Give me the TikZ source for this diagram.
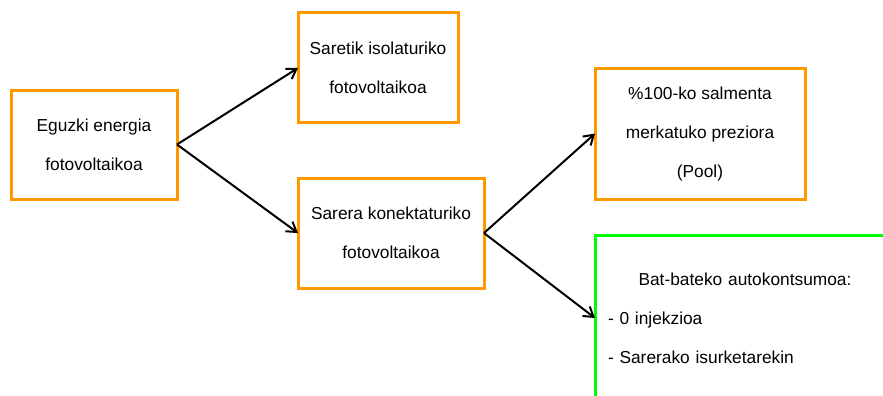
\documentclass[tikz,border=0pt]{standalone}
\usepackage{fontspec}
\setmainfont{Liberation Sans}
\usepackage{xcolor}
\usetikzlibrary{arrows.meta,positioning}

\definecolor{boxorange}{HTML}{FF9900}
\definecolor{boxgreen}{HTML}{00FF00}

\begin{document}
\begin{tikzpicture}[
  x=0.75pt, y=-0.75pt,
  font=\fontsize{13}{29.25}\selectfont,
  kind/.style={draw=boxorange, line width=2.25pt, align=center, inner sep=2pt,
               outer sep=0pt},
  mode/.style={draw=boxgreen, line width=2.25pt, inner sep=9.75pt, outer sep=0pt},
  ar/.style={-{Straight Barb[length=7pt,width=9pt]}, line width=1.5pt}
]
\useasboundingbox (0,0) rectangle (883,396);
\clip (0,0) rectangle (883,396);

% left: source
\node[kind, minimum width=124.5pt, minimum height=81.75pt] (eguzki) at (94,144.5)
  {Eguzki energia\\fotovoltaikoa};

% middle column
\node[kind, minimum width=120pt, minimum height=82.5pt,
      right=90.75pt of eguzki, yshift=57.4pt] (isolatu)
  {Saretik isolaturiko\\fotovoltaikoa};
\node[kind, minimum width=139.5pt, minimum height=82.5pt,
      right=90.75pt of eguzki, yshift=-66.4pt] (konekt)
  {Sarera konektaturiko\\fotovoltaikoa};

% right column: grid-connected options
\node[kind, minimum width=157.5pt, minimum height=98.25pt,
      right=83.25pt of konekt, yshift=74.6pt] (pool)
  {\%100-ko salmenta\\merkatuko preziora\\(Pool)};
\node[mode, minimum width=225pt, minimum height=124.5pt, text width=205.5pt,
      align=left, right=83.25pt of konekt, yshift=-63.75pt] (auto)
  {{\centering Bat-bateko autokontsumoa:\par}%
   - 0 injekzioa\\- Sarerako isurketarekin};

\draw[ar] (eguzki.east) -- (isolatu.west);
\draw[ar] (eguzki.east) -- (konekt.west);
\draw[ar] (konekt.east) -- (pool.west);
\draw[ar] (konekt.east) -- (auto.west);
\end{tikzpicture}
\end{document}
